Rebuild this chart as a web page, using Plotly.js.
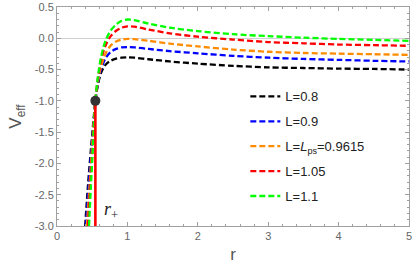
<!DOCTYPE html>
<html><head><meta charset="utf-8">
<script src="https://cdn.plot.ly/plotly-3.0.1.min.js"></script>
<style>html,body{margin:0;padding:0;background:#fff}#plot{width:415px;height:268px}</style>
</head><body><div id="plot"></div>
<script>
// L = 0.8
const rBlack = [0.40,0.44,0.48,0.515,0.545,0.58,0.62,0.66,0.70,0.76,0.84,0.92,1.0,1.1,1.3,1.6,2.0,2.5,3.0,3.5,4.0,4.5,5.0];
const vBlack = [-3.0,-2.35,-1.8,-1.35,-1.0,-0.75,-0.57,-0.47,-0.41,-0.36,-0.325,-0.31,-0.305,-0.31,-0.335,-0.37,-0.405,-0.44,-0.465,-0.475,-0.485,-0.49,-0.50];
// L = 0.9
const rBlue = [0.41,0.45,0.49,0.52,0.545,0.58,0.62,0.66,0.70,0.76,0.84,0.92,1.0,1.1,1.3,1.6,2.0,2.5,3.0,3.5,4.0,4.5,5.0];
const vBlue = [-3.0,-2.35,-1.75,-1.35,-1.0,-0.72,-0.52,-0.39,-0.30,-0.22,-0.17,-0.145,-0.14,-0.145,-0.17,-0.205,-0.24,-0.28,-0.31,-0.33,-0.345,-0.36,-0.37];
// L = Lps = 0.9615
const rOrange = [0.425,0.46,0.50,0.545,0.58,0.62,0.66,0.70,0.76,0.84,0.92,1.0,1.1,1.3,1.6,2.0,2.5,3.0,3.5,4.0,4.5,5.0];
const vOrange = [-3.0,-2.4,-1.7,-1.0,-0.7,-0.48,-0.33,-0.22,-0.12,-0.05,-0.02,-0.01,-0.015,-0.04,-0.085,-0.13,-0.18,-0.215,-0.235,-0.245,-0.255,-0.265];
// L = 1.05
const rRed = [0.44,0.47,0.51,0.545,0.58,0.62,0.66,0.70,0.76,0.84,0.92,1.0,1.1,1.3,1.6,2.0,2.5,3.0,3.5,4.0,4.5,5.0];
const vRed = [-3.0,-2.4,-1.7,-1.0,-0.65,-0.39,-0.21,-0.09,0.03,0.12,0.17,0.19,0.185,0.14,0.08,0.025,-0.02,-0.06,-0.08,-0.10,-0.11,-0.12];
// L = 1.1
const rGreen = [0.455,0.48,0.51,0.545,0.58,0.62,0.66,0.70,0.76,0.84,0.92,1.0,1.1,1.3,1.6,2.0,2.5,3.0,3.5,4.0,4.5,5.0];
const vGreen = [-3.0,-2.4,-1.75,-1.0,-0.62,-0.33,-0.14,-0.01,0.12,0.22,0.28,0.30,0.29,0.235,0.17,0.115,0.065,0.035,0.01,-0.01,-0.025,-0.04];
// horizon
const rPlus = [0.545, 0.545];
const vPlus = [-3.0, -1.0];
const names = ["L=0.8","L=0.9","L=<i>L</i><sub>ps</sub>=0.9615","L=1.05","L=1.1"];
const colors = ["#000000","#0000ff","#ff8c00","#ff0000","#00ff00"];
const xTicks = [0,1,2,3,4,5];
const yTicks = [0.5,0.0,-0.5,-1.0,-1.5,-2.0,-2.5,-3.0];

const series = [[rBlack,vBlack],[rBlue,vBlue],[rOrange,vOrange],[rRed,vRed],[rGreen,vGreen]];
const traces = series.map((s,i)=>({
  x:s[0], y:s[1], type:'scatter', mode:'lines', name:names[i], legendgroup:'g'+i,
  line:{color:colors[i], width:2.3, dash:'6px,3px', shape:'spline', smoothing:0.8}
}));
traces.push({x:rPlus, y:vPlus, type:'scatter', mode:'lines', showlegend:false,
  line:{color:'#ff0000', width:2.6}});
traces.push({x:[rPlus[1]], y:[vPlus[1]], type:'scatter', mode:'markers', showlegend:false,
  marker:{color:'#333333', size:10}});

const axisCommon = {showline:true, mirror:'ticks', linecolor:'#a0a0a0', linewidth:1,
  ticks:'inside', ticklen:4, tickcolor:'#a0a0a0', showgrid:false, zeroline:false,
  tickfont:{family:'Liberation Sans, Arial, sans-serif', size:11, color:'#666'}};

const layout = {
  width:415, height:268, margin:{l:57, r:6, t:7, b:42},
  paper_bgcolor:'#fff', plot_bgcolor:'#fff', showlegend:true,
  xaxis:Object.assign({}, axisCommon, {range:[0,5], tickvals:xTicks, ticktext:xTicks.map(String),
    minor:{dtick:0.2, ticks:'inside', ticklen:2, tickcolor:'#a0a0a0', showgrid:false},
    title:{text:'r', font:{family:'Liberation Sans, Arial, sans-serif', size:17, color:'#555'}, standoff:6}}),
  yaxis:Object.assign({}, axisCommon, {range:[-3,0.5], tickvals:yTicks, ticktext:yTicks.map(v=>v.toFixed(1)),
    zeroline:true, zerolinecolor:'#d0d0d0', zerolinewidth:1,
    minor:{dtick:0.1, ticks:'inside', ticklen:2, tickcolor:'#a0a0a0', showgrid:false},
    title:{text:'V<sub>eff</sub>', font:{family:'Liberation Sans, Arial, sans-serif', size:17, color:'#555'}, standoff:8}}),
  legend:{x:0.535, y:0.66, xanchor:'left', yanchor:'top', bgcolor:'rgba(0,0,0,0)', tracegroupgap:5,
    font:{family:'Liberation Sans, Arial, sans-serif', size:13, color:'#222'}},
  annotations:[{x:0.76, y:-2.76, xref:'x', yref:'y', text:'<i>r</i><sub>+</sub>', showarrow:false,
    font:{family:'Liberation Serif, Times New Roman, serif', size:18, color:'#222'}}]
};
Plotly.newPlot('plot', traces, layout, {displayModeBar:false, staticPlot:true});
</script></body></html>
